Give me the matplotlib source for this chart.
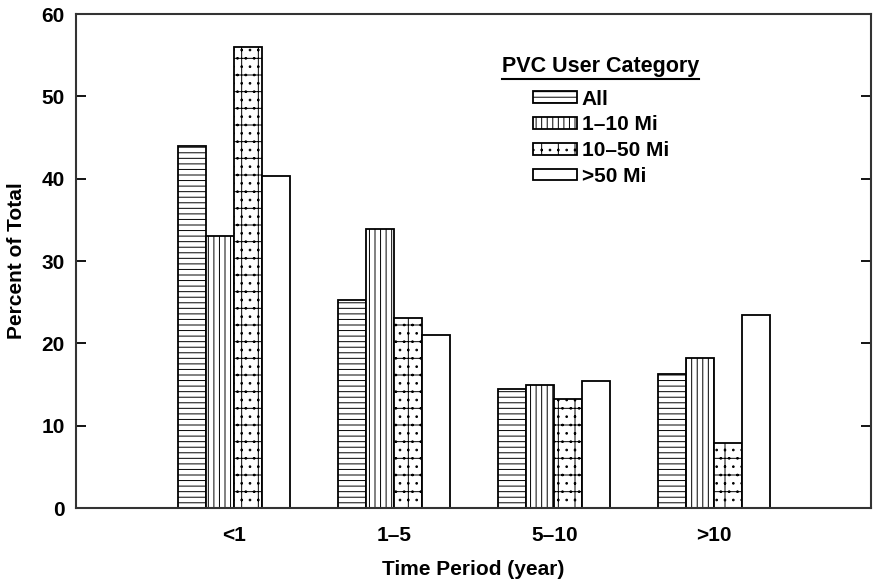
import matplotlib.pyplot as plt
import matplotlib.lines as mlines
import numpy as np

plt.rcParams['font.family'] = ['Liberation Sans', 'DejaVu Sans']
plt.rcParams['font.weight'] = 'bold'
plt.rcParams['axes.labelweight'] = 'bold'
plt.rcParams['hatch.linewidth'] = 0.7

# data
periods = ['<1', '1\u20135', '5\u201310', '>10']
series = ['All', '1\u201310 Mi', '10\u201350 Mi', '>50 Mi']
all_users = [44.0, 25.3, 14.5, 16.3]
mi_1_10 = [33.0, 33.9, 15.0, 18.2]
mi_10_50 = [56.0, 23.1, 13.2, 7.9]
mi_50_plus = [40.3, 21.0, 15.4, 23.4]

values = [all_users, mi_1_10, mi_10_50, mi_50_plus]
hatches = ['---', '|||', '+..', '']

fig = plt.figure(figsize=(8.76, 5.84), dpi=100)
ax = fig.add_axes([0.0868, 0.130, 0.9075, 0.846])

x = np.arange(1, len(periods) + 1)
w = 0.175
for i, (vals, lab, h) in enumerate(zip(values, series, hatches)):
    ax.bar(x + (i - 1.5) * w, vals, w, label=lab, facecolor='white',
           edgecolor='black', hatch=h, linewidth=1.3)

ax.set_xlim(0.01, 4.98)
ax.set_ylim(0, 60)
ax.set_yticks(range(0, 61, 10))
ax.set_xticks(x)
ax.set_xticklabels(periods, fontsize=15)
ax.tick_params(axis='x', length=0, pad=13)
ax.tick_params(axis='y', direction='in', length=7, width=1.3, right=True,
               labelsize=15, pad=8)
for s in ax.spines.values():
    s.set_linewidth(1.5)
    s.set_color('#333333')

ax.set_ylabel('Percent of Total', fontsize=15, labelpad=11)
ax.set_xlabel('Time Period (year)', fontsize=15, labelpad=11)

leg = ax.legend(title='PVC User Category', loc='upper center',
                bbox_to_anchor=(0.66, 0.915), frameon=False,
                fontsize=15, title_fontsize=15.5,
                handlelength=2.15, handleheight=0.47, labelspacing=0.33,
                handletextpad=0.2, borderaxespad=0, borderpad=0)
leg.get_title().set_fontweight('bold')
leg._legend_box.sep = 9

# underline under the legend title
fig.canvas.draw()
tb = leg.get_title().get_window_extent()
fx0, fy0 = fig.transFigure.inverted().transform((tb.x0, tb.y0 - 2))
fx1, _ = fig.transFigure.inverted().transform((tb.x1, tb.y0 - 2))
fig.add_artist(mlines.Line2D([fx0, fx1], [fy0, fy0], color='black', lw=1.5,
                             transform=fig.transFigure))

fig.savefig('out.png', dpi=100)
